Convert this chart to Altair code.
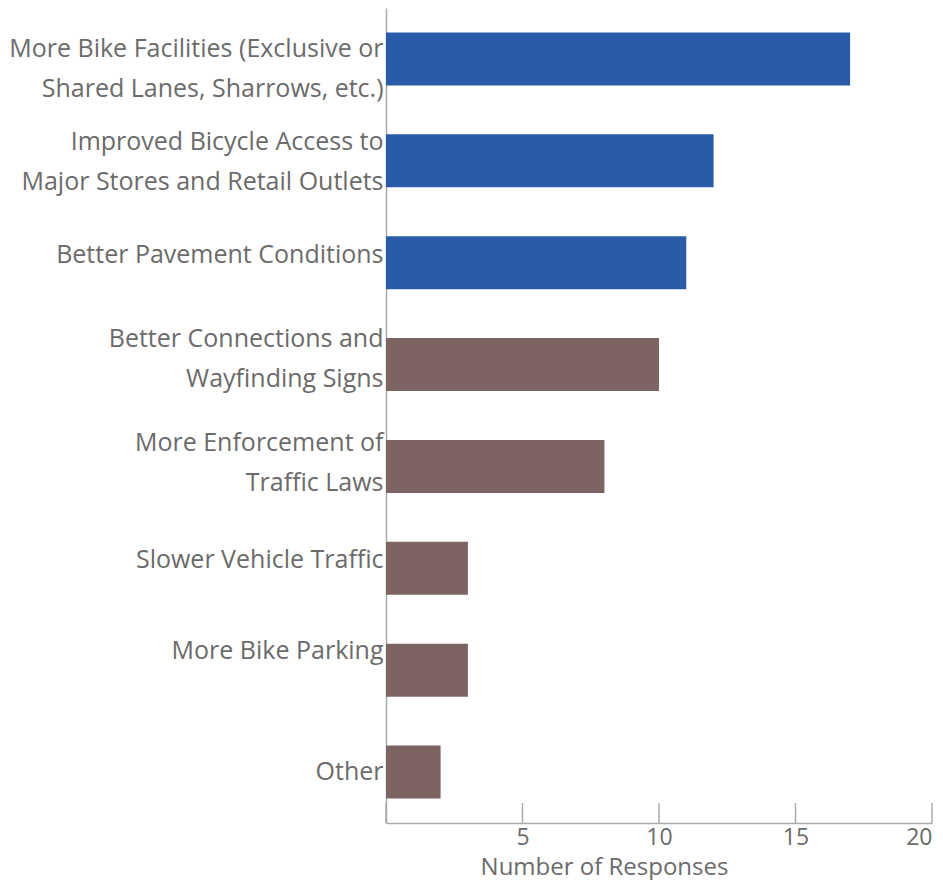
import altair as alt
import pandas as pd

categories = [
    "More Bike Facilities (Exclusive or|Shared Lanes, Sharrows, etc.)",
    "Improved Bicycle Access to|Major Stores and Retail Outlets",
    "Better  Pavement Conditions",
    "Better  Connections and|Wayfinding Signs",
    "More Enforcement of|Traffic Laws",
    "Slower Vehicle Traffic",
    "More Bike Parking",
    "Other",
]
responses = [17, 12, 11, 10, 8, 3, 3, 2]
groups = ["top", "top", "top", "rest", "rest", "rest", "rest", "rest"]
tick_values = [0, 5, 10, 15, 20]

df = pd.DataFrame({"category": categories, "responses": responses, "group": groups})
ticks_df = pd.DataFrame({"t": tick_values})

W, H = 546, 815
FONT = "Open Sans"
GREY = "#6b6b6b"
LINE = "#aaaaaa"

# vertical nudges of the category labels (style only), as in the source layout
nudges = [-9.5, -19, -8, -25.5, -23.5, -8, -19.5, -0.5]
label_offset = {
    "condition": [
        {"test": f"datum.value === '{c}'", "value": n}
        for c, n in zip(categories, nudges)
    ],
    "value": 0,
}

bars = alt.Chart(df).mark_bar().encode(
    y=alt.Y(
        "category:N",
        sort=categories,
        scale=alt.Scale(paddingInner=0.48, paddingOuter=0.24),
        axis=alt.Axis(
            title=None,
            labelExpr="split(datum.label, '|')",
            labelFont=FONT,
            labelFontSize=25,
            labelColor=GREY,
            labelLineHeight=40,
            labelPadding=3,
            labelLimit=400,
            labelOffset=label_offset,
            ticks=False,
            domainColor=LINE,
            domainWidth=1.5,
        ),
    ),
    x=alt.X(
        "responses:Q",
        scale=alt.Scale(domain=[0, 20], nice=False),
        axis=alt.Axis(
            title="Number of Responses",
            values=tick_values,
            labelExpr="datum.value == 0 ? '' : datum.label",
            labelFont=FONT,
            labelFontSize=23,
            labelColor=GREY,
            labelPadding=3,
            labelFlush=True,
            ticks=False,
            grid=False,
            domainColor=LINE,
            domainWidth=1.5,
            titleFont=FONT,
            titleFontSize=24,
            titleFontWeight="normal",
            titleColor=GREY,
            titleBaseline="alphabetic",
            titleX=218,
            titleY=51,
        ),
    ),
    color=alt.Color(
        "group:N",
        scale=alt.Scale(domain=["top", "rest"], range=["#2A5BA8", "#7B6462"]),
        legend=None,
    ),
)

tick_marks = alt.Chart(ticks_df).mark_rule(color=LINE, strokeWidth=1.5).encode(
    x=alt.X("t:Q", scale=alt.Scale(domain=[0, 20], nice=False)),
    y=alt.value(H - 20),
    y2=alt.value(H),
)

chart = (
    alt.layer(bars, tick_marks)
    .properties(
        width=W,
        height=H,
        autosize=alt.AutoSizeParams(type="none"),
        padding={"left": 378, "top": 0, "right": 3, "bottom": 57},
    )
    .configure_view(stroke=None)
)

chart.save("out.html", embed_options={"renderer": "svg", "actions": False})
